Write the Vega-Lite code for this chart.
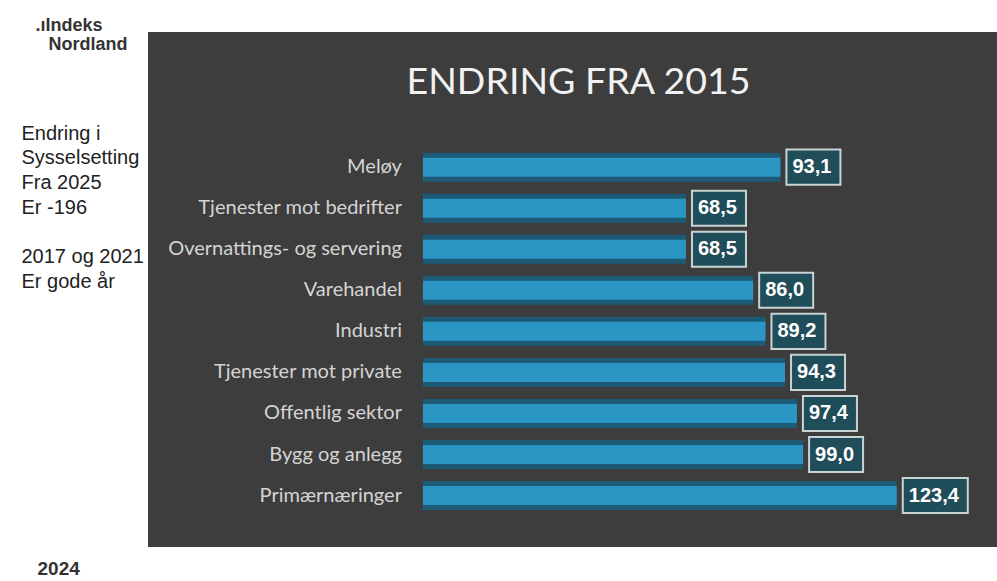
{
  "$schema": "https://vega.github.io/schema/vega-lite/v6.json",
  "width": 849,
  "height": 515,
  "autosize": {"type": "none"},
  "padding": {"left": 148, "top": 32, "right": 0, "bottom": 34},
  "background": "#ffffff",
  "config": {
    "view": {"fill": "#3d3d3d", "stroke": null},
    "axis": {"grid": false, "labels": false, "ticks": false, "domain": false}
  },
  "data": {
    "values": [
      {"cat": "Meløy", "value": 93.1, "label": "93,1"},
      {"cat": "Tjenester mot bedrifter", "value": 68.5, "label": "68,5"},
      {"cat": "Overnattings- og servering", "value": 68.5, "label": "68,5"},
      {"cat": "Varehandel", "value": 86.0, "label": "86,0"},
      {"cat": "Industri", "value": 89.2, "label": "89,2"},
      {"cat": "Tjenester mot private", "value": 94.3, "label": "94,3"},
      {"cat": "Offentlig sektor", "value": 97.4, "label": "97,4"},
      {"cat": "Bygg og anlegg", "value": 99.0, "label": "99,0"},
      {"cat": "Primærnæringer", "value": 123.4, "label": "123,4"}
    ]
  },
  "resolve": {"axis": {"x": "independent", "y": "independent"}},
  "layer": [
    {
      "mark": {"type": "bar", "size": 29, "color": "#1d5a75"},
      "encoding": {
        "x": {
          "field": "value", "type": "quantitative",
          "scale": {"domain": [-71.6, 149.5], "nice": false, "zero": false},
          "axis": {
            "orient": "bottom", "title": "2024",
            "titleX": -111, "titleY": 21, "titleAlign": "left", "titleBaseline": "middle",
            "titleFont": "Liberation Sans", "titleFontSize": 19, "titleFontWeight": "bold", "titleColor": "#333333"
          }
        },
        "y": {
          "field": "cat", "type": "nominal", "sort": null,
          "scale": {"paddingInner": 0.146, "paddingOuter": 0, "range": [117.6, 481.1]},
          "axis": {
            "orient": "left",
            "title": ["Endring i", "Sysselsetting", "Fra 2025", "Er -196", "\u2800", "2017 og 2021", "Er gode år"],
            "titleX": -127, "titleY": 91, "titleAngle": 0, "titleAlign": "left", "titleBaseline": "top",
            "titleFont": "Liberation Sans", "titleFontSize": 20, "titleFontWeight": "normal",
            "titleColor": "#222222", "titleLineHeight": 24.7
          }
        }
      }
    },
    {
      "mark": {"type": "bar", "size": 19, "color": "#2b95c4"},
      "encoding": {
        "x": {"field": "value", "type": "quantitative", "axis": null},
        "y": {"field": "cat", "type": "nominal", "sort": null, "axis": null}
      }
    },
    {
      "transform": [{"filter": "datum.value < 100"}],
      "mark": {"type": "rect", "xOffset": 6, "x2Offset": 60, "fill": "#1f4d59", "stroke": "#c9d3d3", "strokeWidth": 2},
      "encoding": {
        "x": {"field": "value", "type": "quantitative", "axis": null},
        "x2": {"field": "value"},
        "y": {"field": "cat", "type": "nominal", "sort": null, "axis": null}
      }
    },
    {
      "transform": [{"filter": "datum.value >= 100"}],
      "mark": {"type": "rect", "xOffset": 6, "x2Offset": 71, "fill": "#1f4d59", "stroke": "#c9d3d3", "strokeWidth": 2},
      "encoding": {
        "x": {"field": "value", "type": "quantitative", "axis": null},
        "x2": {"field": "value"},
        "y": {"field": "cat", "type": "nominal", "sort": null, "axis": null}
      }
    },
    {
      "mark": {"type": "text", "align": "left", "baseline": "middle", "dx": 12, "font": "Liberation Sans", "fontSize": 20, "fontWeight": "bold", "color": "#ffffff"},
      "encoding": {
        "x": {
          "field": "value", "type": "quantitative",
          "axis": {
            "orient": "top", "title": "ENDRING FRA 2015",
            "titleX": 430, "titleY": 61, "titleAlign": "center", "titleBaseline": "alphabetic",
            "titleFont": "Lato", "titleFontSize": 37.5, "titleFontWeight": "normal", "titleColor": "#f2f2f2"
          }
        },
        "y": {
          "field": "cat", "type": "nominal", "sort": null,
          "axis": {
            "orient": "right",
            "title": [".ıIndeks", "\u2800Nordland"],
            "titleX": -962, "titleY": -2, "titleAngle": 0, "titleAlign": "left", "titleBaseline": "alphabetic",
            "titleFont": "Liberation Sans", "titleFontSize": 18, "titleFontWeight": "bold",
            "titleColor": "#333333", "titleLineHeight": 19.5
          }
        },
        "text": {"field": "label"}
      }
    },
    {
      "mark": {"type": "text", "align": "right", "baseline": "middle", "dx": -21, "font": "Lato", "fontSize": 20, "color": "#d4d4d4"},
      "encoding": {
        "x": {"datum": 0, "type": "quantitative", "axis": null},
        "y": {"field": "cat", "type": "nominal", "sort": null, "axis": null},
        "text": {"field": "cat"}
      }
    }
  ]
}
